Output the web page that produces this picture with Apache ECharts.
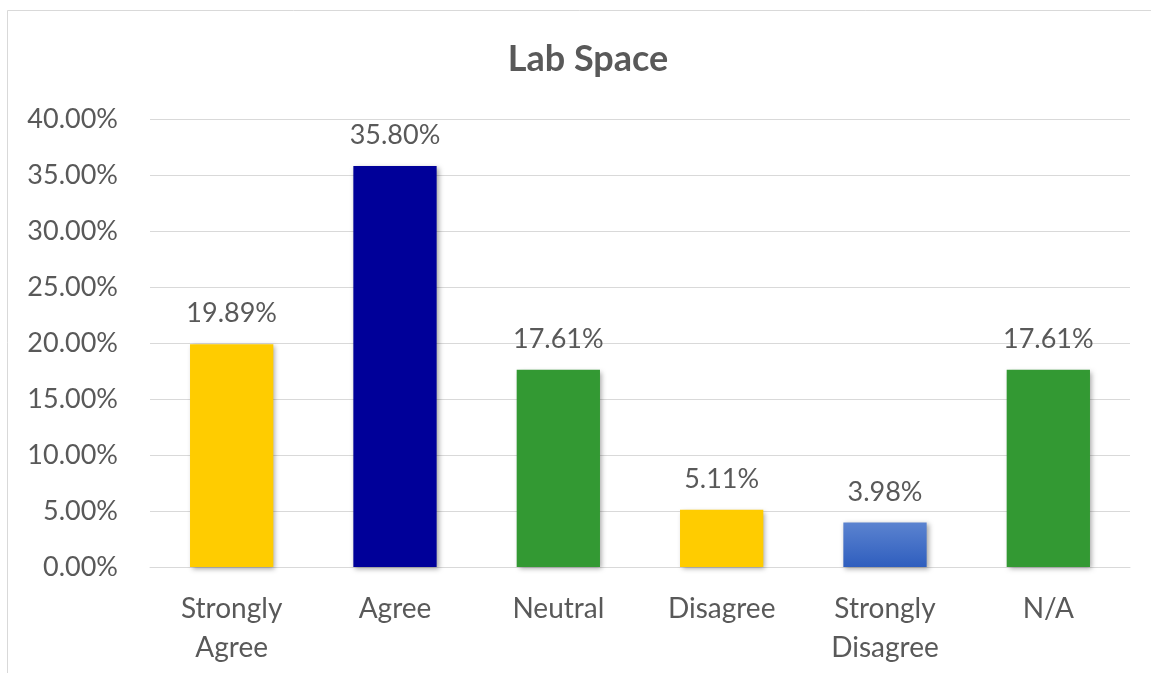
<!DOCTYPE html>
<html><head><meta charset="utf-8">
<script src="https://cdn.jsdelivr.net/npm/echarts@6/dist/echarts.min.js"></script>
<style>html,body{margin:0;padding:0;background:#fff}#c{width:1151px;height:673px}</style>
</head><body><div id="c"></div>
<script>
const categories = ['Strongly\nAgree', 'Agree', 'Neutral', 'Disagree', 'Strongly\nDisagree', 'N/A'];
const values = [19.89, 35.80, 17.61, 5.11, 3.98, 17.61];
const yTicks = [0, 5, 10, 15, 20, 25, 30, 35, 40];
const title = 'Lab Space';

const FONT = 'Lato, "Open Sans", sans-serif';
const TXT = '#595959';
const colors = [
  '#FFCC00', '#000099', '#339933', '#FFCC00',
  {type:'linear', x:0, y:0, x2:0, y2:1, colorStops:[{offset:0,color:'#5B83D0'},{offset:1,color:'#2F5EBE'}]},
  '#339933'
];
const chart = echarts.init(document.getElementById('c'), null, {renderer:'canvas'});
chart.setOption({
  backgroundColor:'#fff',
  animation:false,
  graphic:[{type:'rect', shape:{x:7.5, y:10.5, width:1200, height:700}, style:{fill:'none', stroke:'#d9d9d9', lineWidth:1}, silent:true}],
  title:{text:title, left:583, top:36, textAlign:'center',
    textStyle:{fontFamily:FONT, fontSize:36, fontWeight:'bold', color:TXT}},
  grid:{left:150, right:21, top:119, bottom:106, containLabel:false},
  xAxis:{type:'category', data:categories,
    axisLine:{lineStyle:{color:'#d9d9d9', width:1}}, axisTick:{show:false},
    axisLabel:{fontFamily:FONT, fontSize:28, color:TXT, margin:22, lineHeight:39, interval:0}},
  yAxis:{type:'value', min:yTicks[0], max:yTicks[yTicks.length-1], interval:5,
    axisLine:{show:false}, axisTick:{show:false},
    splitLine:{lineStyle:{color:'#d9d9d9', width:1}},
    axisLabel:{fontFamily:FONT, fontSize:27, color:TXT, margin:32, formatter:v=>v.toFixed(2)+'%'}},
  series:[{type:'bar', barWidth:'51%',
    data:values.map((v,i)=>({value:v, itemStyle:{color:colors[i]}})),
    itemStyle:{shadowBlur:5, shadowColor:'rgba(0,0,0,0.35)', shadowOffsetX:2, shadowOffsetY:2},
    label:{show:true, position:'top', distance:17, fontFamily:FONT, fontSize:27, color:TXT,
      formatter:p=>p.value.toFixed(2)+'%'}}]
});
</script></body></html>
